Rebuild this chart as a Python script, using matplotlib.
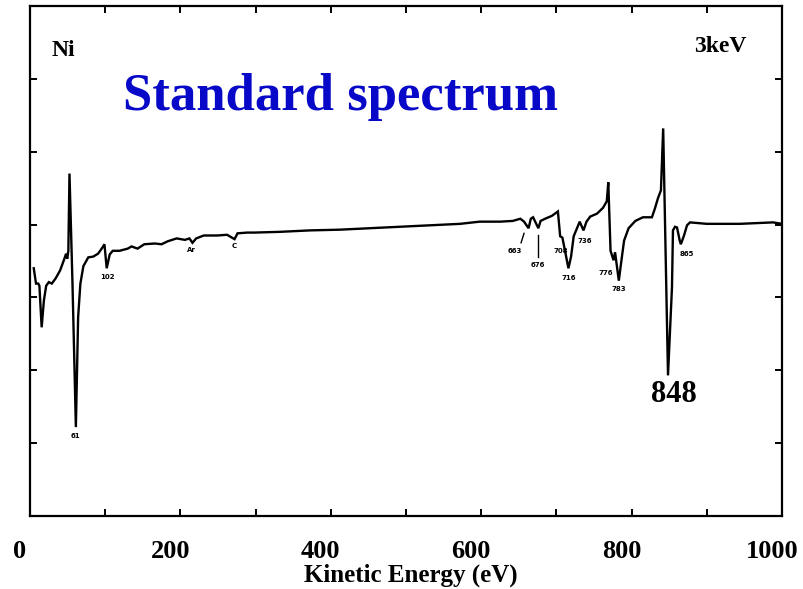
import matplotlib
matplotlib.use("Agg")
import matplotlib.pyplot as plt

# Ni Auger spectrum (dN/dE, arbitrary units) vs kinetic energy in eV
energy = [5, 8, 11, 12.5, 15.5, 18.5, 21.5, 25, 29, 34, 40, 45, 48, 49.5, 51,
          52.5, 56.5, 61, 64, 67, 71, 77.5, 84, 90.5, 96, 99, 102, 106, 110,
          119, 130, 135, 143, 152, 166, 175, 183, 195, 206, 212, 216, 221, 231,
          249, 262, 272, 276, 289, 298, 332, 372, 412, 452, 492, 532, 572, 598,
          625, 642, 652, 657, 663, 666, 669, 676, 679, 685, 694, 702, 705, 708,
          716, 719.5, 723, 731, 736, 740, 745, 754, 762, 767, 769, 772, 776,
          778, 783, 786, 790, 796, 805, 815, 827, 831, 835, 839, 842, 848.4,
          853.7, 855, 857.7, 860.4, 864, 865.5, 869.7, 873.7, 877.7, 900, 944,
          988, 1000]
signal = [3.40, 3.19, 3.19, 3.16, 2.59, 2.96, 3.16, 3.21, 3.19, 3.26, 3.37, 3.51,
          3.60, 3.53, 3.64, 4.70, 3.19, 1.22, 2.73, 3.19, 3.43, 3.55, 3.56, 3.60,
          3.68, 3.73, 3.40, 3.59, 3.64, 3.64, 3.67, 3.70, 3.67, 3.73, 3.74, 3.73,
          3.77, 3.81, 3.79, 3.81, 3.75, 3.81, 3.85, 3.85, 3.86, 3.80, 3.88, 3.89,
          3.89, 3.90, 3.92, 3.93, 3.95, 3.97, 3.99, 4.01, 4.04, 4.04, 4.05, 4.08,
          4.04, 3.95, 4.08, 4.10, 3.95, 4.05, 4.08, 4.12, 4.18, 3.84, 3.82, 3.40,
          3.56, 3.84, 4.04, 3.92, 4.04, 4.11, 4.15, 4.23, 4.32, 4.58, 3.64, 3.51,
          3.62, 3.23, 3.47, 3.78, 3.95, 4.05, 4.10, 4.10, 4.22, 4.36, 4.47, 5.32,
          1.93, 3.14, 3.92, 3.97, 3.96, 3.78, 3.73, 3.85, 3.99, 4.03, 4.01, 4.01,
          4.03, 4.01]

# peak labels: text, x, y (data coordinates)
peak_labels = ["61", "102", "Ar", "C", "663", "676", "708", "716", "736",
               "776", "783", "865"]
peak_label_x = [61, 103, 215, 272, 645, 675, 706, 716, 737, 766, 783, 874]
peak_label_y = [1.10, 3.28, 3.65, 3.71, 3.64, 3.44, 3.64, 3.26, 3.77, 3.33,
                3.12, 3.60]

x_tick_labels = ["0", "200", "400", "600", "800", "1000"]
x_tick_values = [0, 200, 400, 600, 800, 1000]

W, H = 804, 589
fig = plt.figure(figsize=(W / 100, H / 100), dpi=100)
serif = ["Liberation Serif", "DejaVu Serif"]

# main framed spectrum axes
ax = fig.add_axes([30 / W, (H - 516) / H, 752 / W, 510 / H])
ax.plot(energy, signal, color="black", lw=1.7, solid_joinstyle="miter")
ax.set_xlim(0, 1000)
ax.set_ylim(0, 7)
ax.set_xticks(range(100, 1000, 100))
ax.set_yticks(range(1, 7))
ax.tick_params(direction="in", length=5, width=1.4, top=True, right=True,
               labelbottom=False, labelleft=False)
for sp in ax.spines.values():
    sp.set_linewidth(1.6)

for t, x, y in zip(peak_labels, peak_label_x, peak_label_y):
    ax.text(x, y, t, fontsize=5, fontweight="bold", ha="center", va="center",
            family="DejaVu Sans")
# pointer strokes for 663 and 676
ax.plot([653, 657], [3.75, 3.88], color="black", lw=1.0)
ax.plot([676, 676], [3.55, 3.86], color="black", lw=1.0)

ax.text(856, 1.67, "848", fontsize=22, fontweight="bold", ha="center",
        va="center", family=serif)

# energy scale under the frame
sx = fig.add_axes([20 / W, (H - 516) / H, 752 / W, 0.0001])
sx.set_xlim(0, 1000)
sx.set_xticks(x_tick_values)
sx.set_xticklabels(x_tick_labels, fontsize=19, fontweight="bold",
                   family=serif)
sx.set_yticks([])
sx.tick_params(axis="x", length=0, pad=17)
for sp in sx.spines.values():
    sp.set_visible(False)
sx.patch.set_visible(False)

fig.text(411 / W, 1 - 575 / H, "Kinetic Energy (eV)", fontsize=18,
         fontweight="bold", ha="center", va="center", family=serif)
fig.text(52 / W, 1 - 56 / H, "Ni", fontsize=17, fontweight="bold",
         ha="left", va="baseline", family=serif)
fig.text(746 / W, 1 - 52 / H, "3keV", fontsize=17, fontweight="bold",
         ha="right", va="baseline", family=serif)
fig.text(123 / W, 1 - 110 / H, "Standard spectrum", fontsize=38,
         fontweight="bold", color="#0808c8", ha="left", va="baseline",
         family=serif)

fig.savefig("out.png", dpi=100)
